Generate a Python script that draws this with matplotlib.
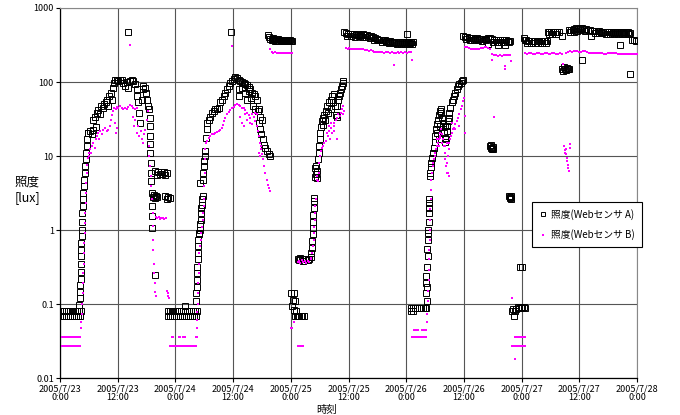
import matplotlib
matplotlib.use("Agg")
import matplotlib.pyplot as plt
from matplotlib.lines import Line2D

plt.rcParams['font.family'] = ['Noto Sans CJK JP', 'DejaVu Sans']

# hours since 2005/7/23 0:00, illuminance [lux]
tick_hours = [0, 12, 24, 36, 48, 60, 72, 84, 96, 108, 120]
tick_labels = ["2005/7/23\n0:00", "2005/7/23\n12:00", "2005/7/24\n0:00", "2005/7/24\n12:00",
               "2005/7/25\n0:00", "2005/7/25\n12:00", "2005/7/26\n0:00", "2005/7/26\n12:00",
               "2005/7/27\n0:00", "2005/7/27\n12:00", "2005/7/28\n0:00"]
y_ticks = [0.01, 0.1, 1, 10, 100, 1000]
y_labels = ["0.01", "0.1", "1", "10", "100", "1000"]

# --- sensor A (black squares) ---
a_day1 = [
    (0.0, 0.08), (0.4, 0.08), (0.8, 0.08), (1.2, 0.08), (1.6, 0.08), (2.0, 0.08), (2.4, 0.08),
    (2.8, 0.08), (3.2, 0.08), (3.6, 0.08), (4.0, 0.08), (4.3, 0.08),
    (0.1, 0.068), (0.5, 0.068), (0.9, 0.068), (1.3, 0.068), (1.7, 0.068), (2.1, 0.068),
    (2.5, 0.068), (2.9, 0.068), (3.3, 0.068), (3.7, 0.068), (4.1, 0.068),
    (4.02, 0.098), (4.16, 0.12), (4.2, 0.146), (4.23, 0.18), (4.3, 0.22), (4.3, 0.27),
    (4.37, 0.35), (4.37, 0.44), (4.37, 0.54), (4.44, 0.67), (4.5, 0.83), (4.5, 1.0),
    (4.57, 1.3), (4.64, 1.7), (4.71, 2.1), (4.78, 2.6), (4.85, 3.2), (4.99, 3.9),
    (5.06, 4.8), (5.13, 5.9), (5.27, 7.3), (5.34, 9.0), (5.4, 11), (5.54, 13.6),
    (5.68, 16.8), (5.82, 20.7),
    (5.9, 20.7), (6.24, 21.5), (6.58, 19.8), (6.93, 22.6), (6.93, 31), (7.28, 34), (7.48, 25),
    (7.62, 38.6), (7.97, 42), (8.32, 37), (8.45, 47.5), (8.87, 45), (9.15, 50), (9.56, 53),
    (9.84, 58), (10.05, 47.5), (10.26, 64), (10.53, 72), (10.74, 58), (10.95, 84),
    (11.23, 98), (11.5, 105), (11.78, 108), (12.13, 102), (12.47, 108), (12.82, 106),
    (13.17, 98), (13.51, 89), (13.86, 100), (14.2, 84), (14.55, 103), (14.9, 108),
    (15.25, 103), (15.59, 93), (15.94, 80), (16.08, 65), (16.29, 53), (16.49, 38.6),
    (16.63, 28), (16.98, 58), (17.19, 80), (17.33, 87), (17.67, 84), (17.88, 72),
    (18.16, 58), (18.36, 47.5), (18.57, 43), (14.2, 477),
    (18.71, 33), (18.71, 25.4), (18.71, 18.8), (18.78, 14.5), (18.78, 11), (18.85, 8.1),
    (18.85, 5.9), (18.92, 4.6), (19.06, 2.1), (19.06, 1.55), (19.06, 1.05), (19.75, 0.25),
    (19.1, 3.2), (19.3, 2.8), (19.5, 3.0), (19.7, 2.7), (19.9, 2.9), (20.1, 2.75),
    (19.8, 6.2), (20.1, 5.6), (20.4, 6.0), (20.7, 5.7), (21.0, 6.1), (21.3, 5.8),
    (21.6, 6.0), (21.9, 5.6), (22.2, 5.9),
    (21.9, 2.9), (22.2, 2.6), (22.5, 2.8), (22.8, 2.7),
    (22.4, 0.08), (22.8, 0.08), (23.2, 0.08), (23.6, 0.08),
    (22.5, 0.068), (22.9, 0.068), (23.3, 0.068), (23.7, 0.068),
]
a_day2 = [
    (24.0, 0.08), (24.4, 0.08), (24.8, 0.08), (25.2, 0.08), (25.6, 0.08), (26.0, 0.08),
    (26.4, 0.08), (26.8, 0.08), (27.2, 0.08), (27.6, 0.08), (28.0, 0.08), (28.4, 0.08),
    (24.2, 0.068), (24.6, 0.068), (25.0, 0.068), (25.4, 0.068), (25.8, 0.068), (26.2, 0.068),
    (26.6, 0.068), (27.0, 0.068), (27.4, 0.068), (27.8, 0.068), (28.2, 0.068), (25.9, 0.095),
    (28.3, 0.11), (28.37, 0.14), (28.44, 0.17), (28.5, 0.21), (28.57, 0.26), (28.57, 0.32),
    (28.64, 0.40), (28.64, 0.49), (28.71, 0.6), (28.78, 0.74), (28.85, 0.87), (28.99, 0.91),
    (29.06, 1.0), (29.2, 1.2), (29.27, 1.38), (29.34, 1.7), (29.4, 2.0), (29.54, 2.2),
    (29.54, 2.6), (29.68, 2.9), (29.1, 4.3), (29.75, 4.8), (29.82, 5.9), (29.89, 7.3),
    (30.03, 8.5), (30.1, 10), (30.24, 11.7), (30.38, 17.6), (30.51, 23), (30.65, 28),
    (30.93, 31), (31.28, 34), (31.62, 38.6), (31.97, 41), (32.32, 43), (32.66, 43),
    (33.0, 45), (33.36, 53), (33.7, 58), (34.05, 65), (34.4, 72), (34.74, 80), (35.1, 89),
    (35.43, 98), (35.78, 103), (36.13, 110), (36.47, 118), (36.82, 114), (37.17, 108),
    (37.5, 103), (37.86, 100), (38.2, 98), (38.55, 93), (38.9, 90), (39.25, 86), (39.6, 80),
    (39.94, 72), (40.3, 69), (40.63, 65), (40.98, 58), (41.33, 43), (41.47, 28), (41.67, 23),
    (41.88, 19.6), (42.15, 16.8), (42.43, 14.3), (42.71, 12.9), (43.06, 11.6), (43.4, 10.5),
    (43.6, 10),
    (37.17, 80), (37.3, 65), (37.86, 84), (38.55, 72), (38.9, 58), (39.4, 76), (39.8, 61),
    (40.1, 47.5), (40.5, 43), (41.1, 40), (41.67, 34), (42.0, 31), (35.64, 480),
    (43.27, 430), (43.5, 405), (43.7, 385), (44.0, 375), (44.4, 365), (44.8, 360),
    (45.2, 362), (45.6, 358), (46.0, 360), (46.4, 356), (46.8, 358), (47.2, 355),
    (47.6, 357), (48.0, 354), (48.3, 356),
    (44.2, 395), (44.6, 385), (45.0, 380), (45.4, 378), (45.8, 372), (46.2, 370),
    (46.6, 368), (47.0, 372), (47.4, 366), (47.8, 365),
]
a_day3 = [
    (48.14, 0.14), (48.7, 0.14), (48.55, 0.115), (48.9, 0.11), (48.35, 0.095), (48.7, 0.083),
    (49.1, 0.08), (48.9, 0.068), (49.2, 0.068), (49.5, 0.068), (49.8, 0.068), (50.1, 0.068),
    (50.4, 0.068), (50.7, 0.068),
    (49.4, 0.41), (49.7, 0.39), (50.0, 0.42), (50.3, 0.40), (50.6, 0.38), (50.9, 0.41),
    (51.2, 0.40), (51.5, 0.39), (51.8, 0.41), (52.1, 0.43),
    (52.3, 0.49), (52.44, 0.57), (52.5, 0.70), (52.57, 0.87), (52.64, 1.05), (52.71, 1.3),
    (52.71, 1.6), (52.78, 2.0), (52.85, 2.5), (52.85, 2.7),
    (53.0, 6.8), (53.1, 5.2), (53.2, 7.3), (53.3, 5.8), (53.45, 6.2), (53.5, 5.0),
    (53.7, 9.0), (53.8, 11), (53.9, 13.6), (54.0, 16.8), (54.1, 20.7), (54.24, 25),
    (54.4, 29.5), (54.6, 32.5), (54.7, 26.5), (54.93, 36), (55.14, 31), (55.28, 41),
    (55.62, 47.5), (55.83, 38.6), (55.97, 53), (56.32, 58), (56.45, 43), (56.66, 64),
    (56.87, 53), (57.0, 68), (57.2, 47.5), (57.36, 36), (57.56, 34), (57.7, 47.5),
    (57.9, 58), (58.05, 64), (58.26, 72), (58.4, 80), (58.6, 89), (58.8, 98), (58.95, 103),
    (59.1, 470), (59.5, 455), (59.9, 445), (60.3, 450), (60.7, 440), (61.1, 445),
    (61.5, 435), (61.9, 440), (62.3, 430), (62.7, 435), (63.1, 440), (63.5, 430),
    (63.9, 425), (64.3, 420), (64.7, 415), (65.1, 400), (65.5, 395), (65.9, 385),
    (66.3, 375), (66.7, 370), (67.1, 365), (67.5, 368), (67.9, 360), (68.3, 355),
    (68.7, 360), (69.1, 350), (69.5, 345), (69.9, 350), (70.3, 340), (70.7, 345),
    (71.1, 350), (71.5, 340), (71.9, 345), (72.3, 350), (72.7, 340), (73.1, 345),
    (73.5, 350), (72.25, 450),
    (59.7, 420), (60.5, 415), (61.3, 410), (62.1, 412), (62.9, 405), (63.7, 400),
    (64.5, 392), (65.3, 375), (66.1, 365), (66.9, 350), (67.7, 345), (68.5, 338),
    (69.3, 332), (70.1, 330), (70.9, 328), (71.7, 330), (72.5, 328), (73.3, 330),
]
a_day4 = [
    (73.05, 0.08), (73.5, 0.08), (73.1, 0.088), (73.5, 0.088), (73.9, 0.088), (74.3, 0.088),
    (74.7, 0.088), (75.1, 0.088), (75.5, 0.088), (75.9, 0.088), (76.2, 0.088),
    (76.3, 0.11), (76.2, 0.14), (76.37, 0.17), (76.2, 0.19), (76.2, 0.24), (76.37, 0.32),
    (76.5, 0.44), (76.37, 0.55), (76.5, 0.74), (76.5, 0.91), (76.58, 1.0), (76.65, 1.3),
    (76.65, 1.7), (76.72, 2.0), (76.79, 2.3), (76.79, 2.6),
    (77.0, 5.3), (76.93, 5.9), (77.07, 7.0), (77.2, 8.1), (77.34, 9.5), (77.48, 11),
    (77.7, 13), (77.9, 15.4), (78.04, 18.8), (78.2, 23), (78.4, 26.8), (78.6, 31),
    (78.73, 36), (78.94, 41), (79.15, 43), (79.3, 38.6), (79.42, 33), (79.56, 28),
    (79.7, 24.3), (79.84, 20.7), (79.98, 17.6), (80.1, 15.4), (80.25, 16.8), (80.4, 21.7),
    (80.53, 25.4), (80.67, 29.5), (80.8, 33), (81.0, 38.6), (81.2, 45), (81.5, 53),
    (81.7, 58), (81.9, 64), (82.2, 72), (82.47, 80), (82.75, 87), (83.0, 93), (83.3, 98),
    (83.6, 103), (83.8, 108),
    (78.4, 20.7), (78.73, 16.8), (79.1, 25.4), (80.1, 25.4),
    (83.9, 420), (84.3, 410), (84.7, 400), (85.1, 395), (85.5, 390), (85.9, 392),
    (86.3, 385), (86.7, 388), (87.1, 380), (87.5, 385), (87.9, 378), (88.3, 380),
    (88.7, 385), (89.1, 392), (89.5, 398), (89.9, 385), (90.3, 375), (90.7, 370),
    (91.1, 372), (91.5, 368), (91.9, 365), (92.3, 370), (92.7, 365), (93.1, 362),
    (93.5, 360), (89.1, 325), (91.1, 315), (92.6, 315),
    (84.5, 385), (85.3, 372), (86.1, 368), (86.9, 365), (87.7, 362), (88.5, 365),
    (90.1, 350), (90.9, 348), (91.7, 345), (92.5, 342), (93.3, 345),
    (89.5, 13.5), (89.6, 12.8), (89.7, 14), (89.8, 13), (89.9, 12.5), (90.0, 13.2), (90.1, 12.6),
    (93.4, 2.9), (93.5, 2.7), (93.6, 2.8), (93.7, 2.6), (93.8, 2.9),
    (95.7, 0.32),
    (94.0, 0.08), (94.3, 0.085), (94.6, 0.08), (94.9, 0.085), (95.2, 0.09), (95.5, 0.088),
    (95.8, 0.09), (94.5, 0.068),
]
a_day5 = [
    (96.1, 0.088), (96.4, 0.09), (96.7, 0.088), (96.1, 0.32),
    (96.4, 390), (96.7, 375), (97.0, 365), (97.3, 362), (97.6, 360), (97.9, 358),
    (98.2, 360), (98.5, 356), (98.8, 358), (99.1, 355), (99.4, 357), (99.7, 360),
    (100.0, 356), (100.3, 358), (100.6, 360), (100.9, 357), (101.2, 362),
    (97.1, 340), (97.9, 335), (98.7, 338), (99.5, 336), (100.3, 340), (101.0, 338),
    (101.4, 470), (101.8, 480), (102.2, 475), (102.6, 478), (103.0, 472), (103.4, 470),
    (103.8, 475), (104.5, 420), (101.6, 445), (102.4, 448), (103.2, 442),
    (105.8, 500), (106.2, 510), (106.6, 505), (107.0, 520), (107.4, 530), (107.8, 525),
    (108.2, 535), (108.6, 530), (109.0, 525), (109.4, 520), (109.8, 510),
    (106.0, 470), (106.8, 480), (107.6, 495), (108.4, 500), (109.2, 495),
    (110.2, 500), (110.6, 495), (111.0, 490), (111.4, 495), (111.8, 485), (112.2, 490),
    (112.6, 480), (113.0, 475), (113.4, 470), (113.8, 472), (114.2, 468), (114.6, 470),
    (115.0, 465), (115.4, 470), (115.8, 468), (116.2, 465), (116.6, 470), (117.0, 468),
    (117.4, 465), (117.8, 470), (118.2, 468), (118.6, 465),
    (111.2, 465), (112.0, 460), (112.8, 455), (113.6, 448), (114.4, 445), (115.2, 442),
    (116.0, 440), (116.8, 445), (117.6, 442), (118.4, 440),
    (119.0, 365), (119.4, 370), (119.8, 360),
    (110.4, 420), (108.6, 196), (116.4, 315), (118.5, 128),
    (104.4, 150), (104.6, 140), (104.8, 160), (105.0, 150), (105.2, 145), (105.4, 155),
    (105.6, 148), (105.9, 152),
]

# --- sensor B (magenta dots) ---
b_day1 = [
    (0.35, 0.036), (0.65, 0.036), (0.95, 0.036), (1.25, 0.036), (1.55, 0.036), (1.85, 0.036),
    (2.15, 0.036), (2.45, 0.036), (2.75, 0.036), (3.05, 0.036), (3.35, 0.036), (3.65, 0.036),
    (3.95, 0.036), (4.25, 0.036),
    (0.35, 0.027), (0.65, 0.027), (0.95, 0.027), (1.25, 0.027), (1.55, 0.027), (1.85, 0.027),
    (2.15, 0.027), (2.45, 0.027), (2.75, 0.027), (3.05, 0.027), (3.35, 0.027), (3.65, 0.027),
    (3.95, 0.027), (4.25, 0.027),
    (4.37, 0.047), (4.44, 0.057), (4.57, 0.073), (4.64, 0.1), (4.71, 0.14), (4.78, 0.19),
    (4.85, 0.26), (4.92, 0.35), (4.99, 0.49), (5.06, 0.67), (5.13, 0.91), (5.2, 1.25),
    (5.27, 1.7), (5.34, 2.3), (5.4, 3.2), (5.47, 4.3), (5.54, 5.9), (5.68, 7.6), (5.82, 9.5),
    (5.96, 11), (6.1, 10), (6.24, 12.3), (6.44, 11), (6.65, 13.6), (6.93, 15), (7.28, 13),
    (7.48, 16.8), (7.76, 18.8), (7.97, 20.7), (8.18, 16.8), (8.32, 21.7), (8.66, 19.7),
    (9.0, 22.6), (9.36, 24), (9.7, 21.7), (10.05, 22.6), (10.4, 25.4), (10.6, 31),
    (10.8, 36), (11.1, 40), (11.3, 45), (11.57, 43), (11.78, 46.5), (12.13, 45),
    (12.47, 47.5), (12.8, 45), (13.17, 43), (13.5, 45), (13.86, 43), (14.2, 46.5),
    (14.55, 48.7), (14.9, 47.5), (15.25, 45), (15.6, 43), (15.94, 44),
    (15.1, 34), (15.4, 25.4), (15.66, 31), (15.94, 20.7), (16.2, 25.4), (16.5, 18.8),
    (16.77, 21.7), (17.05, 16.8), (17.33, 15), (17.46, 19.7), (17.74, 22.6), (18.0, 31),
    (18.2, 40), (11.43, 28), (11.78, 24), (11.64, 20.7),
    (18.43, 13.6), (18.57, 10), (18.7, 7.3), (18.85, 5.4), (18.99, 3.9), (19.13, 2.6),
    (19.27, 1.7), (19.33, 1.15), (19.4, 0.74), (19.4, 0.54), (19.47, 0.35), (19.54, 0.26),
    (19.68, 0.19), (19.75, 0.146), (19.9, 0.13),
    (19.95, 1.5), (20.2, 1.45), (20.5, 1.48), (20.8, 1.42), (21.1, 1.45), (21.4, 1.47),
    (21.7, 1.43), (22.0, 1.45),
    (22.3, 0.15), (22.4, 0.14), (22.5, 0.13), (22.6, 0.12), (14.55, 316),
    (23.2, 0.036), (23.6, 0.036),
    (22.9, 0.027), (23.2, 0.027), (23.5, 0.027), (23.8, 0.027),
]
b_day2 = [
    (24.1, 0.027), (24.4, 0.027), (24.7, 0.027), (25.0, 0.027), (25.3, 0.027), (25.6, 0.027),
    (25.9, 0.027), (26.2, 0.027), (26.5, 0.027), (26.8, 0.027), (27.1, 0.027), (27.4, 0.027),
    (27.7, 0.027), (28.0, 0.027), (28.3, 0.027),
    (24.7, 0.036), (25.0, 0.036), (25.5, 0.036), (26.0, 0.036), (28.2, 0.036), (28.4, 0.036),
    (28.5, 0.047), (28.5, 0.06), (28.57, 0.077), (28.64, 0.1), (28.71, 0.14), (28.78, 0.19),
    (28.85, 0.26), (28.92, 0.35), (28.99, 0.49), (29.13, 0.6), (29.27, 0.74), (29.4, 0.91),
    (29.54, 1.1), (29.68, 1.38), (29.82, 1.7), (29.9, 2.1), (29.96, 2.6), (30.03, 3.9),
    (30.1, 5.9), (30.17, 9.0), (30.24, 12.3), (30.38, 15), (30.58, 16), (30.93, 17.6),
    (31.28, 18.8), (31.62, 19.7), (31.97, 19.7), (32.32, 20.7), (32.66, 21), (33.0, 21.7),
    (33.36, 22.6), (33.7, 24), (33.9, 26.5), (34.1, 29.5), (34.4, 33), (34.74, 36.6),
    (35.1, 39.5), (35.43, 42), (35.78, 45), (36.13, 46.5), (36.47, 48.7), (36.82, 50),
    (37.17, 48.7), (37.5, 47.5), (37.86, 45), (38.2, 44), (38.55, 42), (38.9, 38.6),
    (39.25, 35.3), (39.6, 33), (39.94, 36.6), (40.3, 34), (40.63, 29.5), (40.98, 25.4),
    (41.2, 21.7), (41.33, 18.6), (41.54, 15), (41.74, 12.3), (42.0, 10.5), (42.2, 9.0),
    (42.43, 7.3), (42.7, 5.9), (42.99, 4.8), (43.27, 4.1), (43.54, 3.7), (43.75, 3.4),
    (37.5, 34), (37.86, 28), (38.2, 25.4), (38.55, 37), (38.9, 31), (39.6, 28),
    (39.94, 26.8), (40.6, 38.6), (40.98, 36.6), (41.33, 11), (41.67, 10), (41.9, 13.6),
    (35.78, 309),
    (43.75, 278), (44.1, 255), (44.4, 250), (44.8, 252), (45.2, 250), (45.6, 248),
    (46.0, 250), (46.4, 247), (46.8, 250), (47.2, 248), (47.6, 250), (48.0, 249), (48.3, 250),
]
b_day3 = [
    (48.0, 0.047), (48.35, 0.047), (48.7, 0.057),
    (49.4, 0.027), (49.7, 0.027), (50.0, 0.027), (50.3, 0.027), (50.6, 0.027),
    (49.4, 0.37), (49.7, 0.38), (50.0, 0.36), (50.3, 0.39), (50.6, 0.37), (50.9, 0.38),
    (51.2, 0.36), (51.5, 0.38), (51.8, 0.37), (52.1, 0.4),
    (52.3, 0.42), (52.5, 0.49), (52.64, 0.6), (52.78, 0.74), (52.85, 0.91), (52.92, 1.1),
    (52.99, 1.38), (53.06, 1.7), (53.13, 2.1), (53.2, 2.6), (53.4, 4.8), (53.54, 5.3),
    (53.68, 4.6), (53.82, 5.9), (53.96, 8.1), (54.1, 10), (54.24, 11.7), (54.45, 13),
    (54.65, 13.6), (54.93, 15), (55.28, 16), (55.48, 20.7), (55.76, 18.8), (55.97, 21.7),
    (56.18, 16.8), (56.3, 24), (56.6, 20.7), (56.9, 25.4), (57.0, 28), (57.36, 31),
    (57.7, 33), (57.9, 36.6), (58.2, 35), (58.4, 38.6), (58.6, 43), (58.8, 47.5),
    (59.1, 40), (58.95, 36.6),
    (55.97, 25.4), (56.45, 28), (57.0, 21.7), (57.7, 16.8),
    (59.4, 290), (59.8, 280), (60.2, 285), (60.6, 282), (61.0, 278), (61.4, 280),
    (61.8, 283), (62.2, 278), (62.6, 275), (63.0, 278), (63.4, 272), (63.8, 270),
    (64.2, 265), (64.6, 268), (65.0, 262), (65.4, 258), (65.8, 255), (66.2, 258),
    (66.6, 255), (67.0, 253), (67.4, 250), (67.8, 252), (68.2, 255), (68.6, 250),
    (69.0, 252), (69.4, 250), (69.8, 248), (70.2, 252), (70.6, 250), (71.0, 253),
    (71.4, 250), (71.8, 252), (72.2, 250), (72.6, 255), (73.0, 252), (69.5, 172), (73.2, 200),
]
b_day4 = [
    (73.6, 0.045), (73.9, 0.045), (74.2, 0.045), (74.5, 0.045), (75.3, 0.045), (75.6, 0.045),
    (75.9, 0.045), (76.2, 0.045),
    (73.2, 0.036), (73.5, 0.036), (73.8, 0.036), (74.1, 0.036), (74.4, 0.036), (74.7, 0.036),
    (75.0, 0.036), (75.3, 0.036), (75.6, 0.036), (75.9, 0.036), (76.2, 0.036),
    (76.3, 0.057), (76.37, 0.073), (76.5, 0.11), (76.5, 0.15), (76.65, 0.21), (76.65, 0.29),
    (76.8, 0.4), (76.8, 0.54), (76.86, 0.74), (76.86, 1.0), (76.93, 1.38), (77.0, 1.9),
    (77.07, 2.6), (77.14, 3.5), (77.2, 4.8), (77.34, 5.9), (77.48, 7.3), (77.62, 8.1),
    (77.76, 9.0), (77.9, 10), (78.04, 11), (78.25, 12.3), (78.45, 13.6), (78.6, 15),
    (78.73, 16.8), (78.94, 18.8), (79.08, 20.7), (79.3, 23), (79.42, 19.7), (79.56, 16.8),
    (79.77, 13.6), (79.98, 11), (80.1, 9), (80.25, 7.3), (80.4, 5.9), (80.53, 8.1),
    (80.67, 10), (80.8, 12.3), (80.95, 15), (81.16, 16.8), (81.37, 18.8), (81.5, 20.7),
    (81.7, 23), (81.9, 24), (82.2, 26.8), (82.47, 29.5), (82.75, 33), (83.0, 36.6),
    (83.3, 43), (83.6, 47.5), (83.86, 55), (84.0, 61), (84.15, 35), (84.27, 20.7),
    (78.4, 16.8), (78.73, 13.6), (79.1, 17.6), (79.42, 15), (80.1, 13.6), (80.46, 15),
    (80.67, 5.9), (80.8, 5.3), (81.5, 28), (82.2, 23), (82.9, 25.4),
    (84.3, 300), (84.7, 295), (85.1, 285), (85.5, 280), (85.9, 282), (86.3, 278),
    (86.7, 280), (87.1, 282), (87.5, 285), (87.9, 290), (88.3, 295), (88.7, 298),
    (89.1, 290), (89.5, 280), (89.9, 240), (90.3, 232), (90.7, 230), (91.1, 228),
    (91.5, 230), (91.9, 228), (92.3, 230), (92.7, 232), (93.1, 230), (93.5, 235),
    (89.8, 200), (92.5, 166), (92.6, 150), (93.8, 190), (90.2, 33.6), (94.0, 0.12),
    (94.7, 0.036), (95.0, 0.036), (95.3, 0.036), (95.6, 0.036), (95.9, 0.036),
    (94.0, 0.027), (94.3, 0.027), (94.6, 0.027), (94.9, 0.027), (95.2, 0.027), (95.5, 0.027),
    (95.8, 0.027), (94.7, 0.018),
]
b_day5 = [
    (96.2, 0.036), (96.5, 0.036), (96.8, 0.036), (96.1, 0.027), (96.4, 0.027), (96.7, 0.027),
    (96.8, 245), (97.2, 242), (97.6, 245), (98.0, 243), (98.4, 240), (98.8, 242),
    (99.2, 245), (99.6, 243), (100.0, 240), (100.4, 242), (100.8, 245), (101.2, 243),
    (101.6, 240), (102.0, 242), (102.4, 245), (102.8, 243), (103.2, 240), (103.6, 242),
    (104.0, 245), (104.4, 240),
    (105.2, 250), (105.6, 255), (106.0, 260), (106.4, 258), (106.8, 262), (107.2, 265),
    (107.6, 262), (108.0, 258), (108.4, 255), (108.8, 260), (109.2, 262), (109.6, 258),
    (110.0, 250), (110.4, 245), (110.8, 248), (111.2, 250), (111.6, 248), (112.0, 245),
    (112.4, 243), (112.8, 245), (113.2, 242), (113.6, 240), (114.0, 243), (114.4, 245),
    (114.8, 250), (115.2, 248), (115.6, 245), (116.0, 240), (116.4, 242), (116.8, 238),
    (117.2, 240), (117.6, 242), (118.0, 240), (118.4, 238), (118.8, 240), (119.2, 242),
    (119.6, 240), (120.0, 238),
    (104.7, 175),
    (104.9, 13.6), (105.0, 12), (105.1, 11), (105.2, 10.5), (105.3, 12.5), (105.4, 9.5),
    (105.5, 8.5), (105.6, 7.5), (105.7, 6.8), (105.8, 6.3), (106.0, 13), (106.1, 14.5),
]

a_points = a_day1 + a_day2 + a_day3 + a_day4 + a_day5
b_points = b_day1 + b_day2 + b_day3 + b_day4 + b_day5
a_h, a_lux = zip(*a_points)
b_h, b_lux = zip(*b_points)

fig = plt.figure(figsize=(6.8, 4.15), dpi=100)
ax = fig.add_axes([60 / 680, 37 / 415, 577 / 680, 370 / 415])

ax.plot(a_h, a_lux, linestyle="none", marker="s", markersize=3.8,
        markerfacecolor="none", markeredgecolor="black", markeredgewidth=0.7, zorder=3)
ax.plot(b_h, b_lux, linestyle="none", marker="s", markersize=1.7,
        markerfacecolor="#ff00ff", markeredgewidth=0, zorder=4)

ax.set_yscale("log")
ax.set_ylim(0.01, 1000)
ax.set_xlim(0, 120)
ax.set_yticks(y_ticks)
ax.set_yticklabels(y_labels)
ax.yaxis.set_minor_locator(matplotlib.ticker.NullLocator())
ax.set_xticks(tick_hours)
ax.set_xticklabels(tick_labels, linespacing=1.0)
ax.tick_params(labelsize=6.5, length=3, width=0.8, pad=1.5)

ax.grid(True, color="#555555", linewidth=0.8)
ax.set_axisbelow(True)
for side in ["top", "right"]:
    ax.spines[side].set_color("#888888")
    ax.spines[side].set_linewidth(0.8)
for side in ["left", "bottom"]:
    ax.spines[side].set_color("black")
    ax.spines[side].set_linewidth(0.9)

fig.text(27 / 680, 1 - 190 / 415, "照度\n[lux]", ha="center", va="center",
         fontsize=9, linespacing=1.2)
fig.text(327 / 680, 1 - 410 / 415, "時刻", ha="center", va="center", fontsize=7.5)

handles = [
    Line2D([], [], linestyle="none", marker="s", markersize=3.2, markerfacecolor="none",
           markeredgecolor="black", markeredgewidth=0.7),
    Line2D([], [], linestyle="none", marker="s", markersize=1.7, markerfacecolor="#ff00ff",
           markeredgewidth=0),
]
leg = ax.legend(handles, ["照度(Webセンサ A)", "照度(Webセンサ B)"],
                loc="upper left", bbox_to_anchor=(532 / 680, 1 - 202 / 415),
                bbox_transform=fig.transFigure, fontsize=7, fancybox=False,
                framealpha=1, edgecolor="black", handlelength=0.8, handletextpad=0.5,
                borderpad=0.7, labelspacing=1.0, borderaxespad=0)
leg.get_frame().set_linewidth(0.8)

fig.savefig("out.png", dpi=100)
